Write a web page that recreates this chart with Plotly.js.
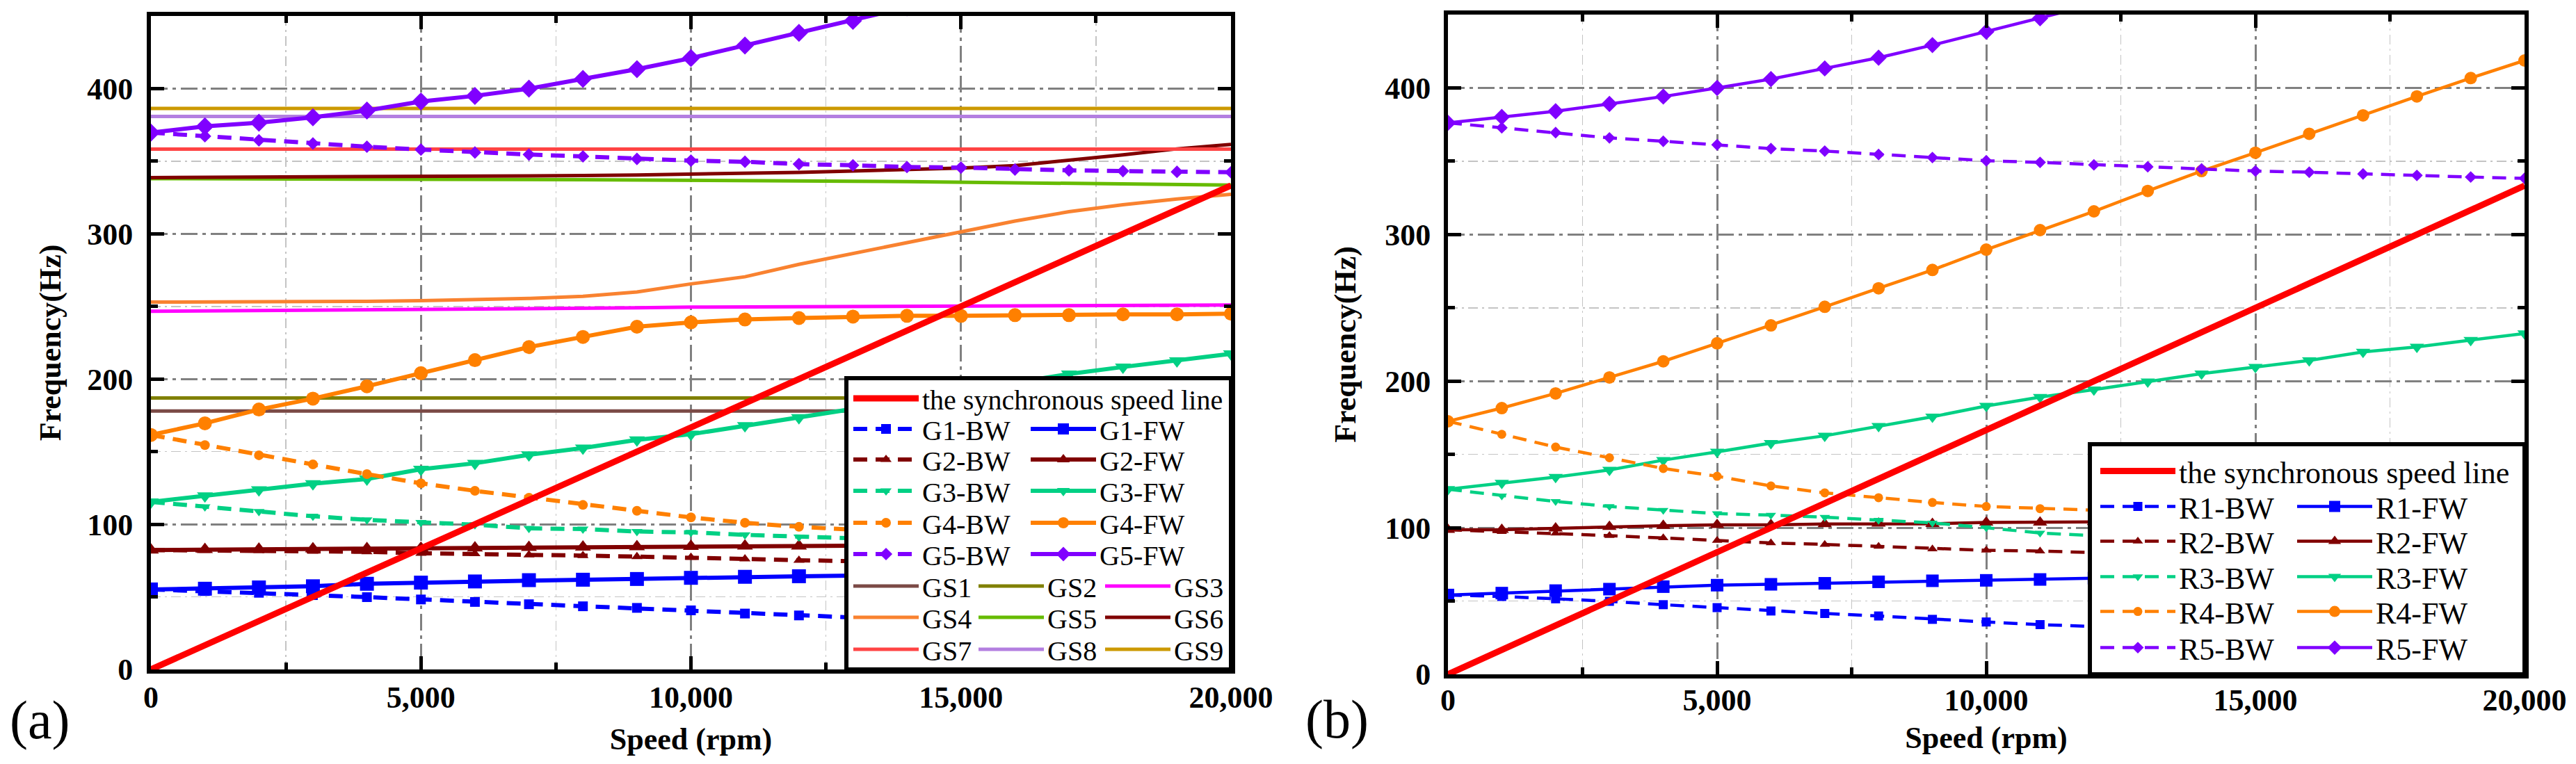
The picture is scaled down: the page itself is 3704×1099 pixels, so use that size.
<!DOCTYPE html>
<html>
<head>
<meta charset="utf-8">
<script src="https://cdn.plot.ly/plotly-3.0.1.min.js"></script>
<style>
  body { margin: 0; background: #fff; }
  #wrap { display: flex; width: 3704px; height: 1099px; }
  #pa, #pb { width: 1852px; height: 1099px; }
</style>
</head>
<body>
<div id="wrap"><div id="pa"></div><div id="pb"></div></div>
<script>
// Campbell diagrams: (a) G modes + GS curves, (b) R modes

const speed = [0, 1000, 2000, 3000, 4000, 5000, 6000, 7000, 8000, 9000, 10000,
  11000, 12000, 13000, 14000, 15000, 16000, 17000, 18000, 19000, 20000];
const syncSpeed = [0, 20000];
const syncFreq = [0, 333.3];
const flatSpeed = [0, 20000];

// ---- panel (a) ----
const g1bw = [55.1, 54, 52.8, 51.2, 49.8, 48.2, 46.5, 44.9, 43.5, 42.4, 40.7, 38.5, 37.2, 35.8, 34.5, 33.2, 32, 30.8, 29.7, 28.6, 27.6];
const g1fw = [55.1, 55.6, 56.5, 57.3, 59, 59.8, 60.6, 61.5, 61.8, 62.3, 63.1, 63.8, 64.2, 64.6, 65, 65.3, 65.6, 65.9, 66.2, 66.4, 66.6];
const g2bw = [82.2, 82, 81.7, 81.4, 81, 80, 79.7, 78.9, 78.4, 77.7, 77.2, 76.1, 75.2, 74.5, 73.8, 73.2, 72.6, 72, 71.5, 71, 70.5];
const g2fw = [82.2, 82.6, 82.8, 83, 83.2, 83.4, 83.7, 84, 84.2, 84.5, 84.7, 85, 85, 85.2, 85.3, 85.4, 85.5, 85.6, 85.7, 85.8, 85.9];
const g3bw = [115.4, 112, 108.8, 105.5, 103, 101.3, 99.7, 97.2, 96.7, 95, 94.4, 92.7, 91.2, 90.3, 89.5, 88.8, 88.2, 87.6, 87, 86.5, 86];
const g3fw = [115.4, 119.6, 123.8, 127.9, 131.2, 137.9, 142, 147.8, 152.5, 158.1, 162, 167.9, 173.4, 179, 185, 191, 197.5, 203.5, 208.3, 212.5, 217.4];
const g4bw = [161.5, 154.5, 147.5, 141.2, 134.5, 128.2, 123, 118.3, 113.3, 109.3, 104.7, 101, 98.2, 96, 94.3, 92.8, 91.6, 90.6, 89.8, 89.1, 88.5];
const g4fw = [161.5, 169.5, 179, 186.5, 195, 204, 213, 222, 229, 236, 239, 241, 242, 243, 243.5, 243.5, 244, 244, 244.5, 244.5, 245];
const g5bw = [369.7, 367.2, 364.4, 362.2, 360, 358, 356, 354.6, 353.3, 351.6, 350.4, 349.6, 348, 347.2, 346, 345.6, 344.3, 343.7, 343.2, 342.7, 342.4];
const g5fw = [369.7, 374, 376.5, 380.2, 384.9, 391.1, 395, 400, 406.7, 413.4, 421, 429.6, 438.4, 446.7, 456, 465, 475, 485, 496, 507, 518];

const gs1 = [178, 178];
const gs2 = [187, 187];
const gs3 = [246.7, 246.9, 247.1, 247.4, 247.6, 247.8, 248, 248.3, 248.6, 249, 249.5, 249.7, 249.9, 250.1, 250.2, 250.4, 250.5, 250.6, 250.7, 250.8, 251];
const gs4 = [253, 253, 253, 253, 253.5, 254, 254.5, 255.5, 257, 260, 265.5, 270.4, 279, 286.4, 293.6, 301.6, 308.8, 315.2, 320, 324, 327.2];
const gs5 = [338, 338, 337.9, 337.8, 337.7, 337.6, 337.5, 337.4, 337.3, 337.2, 337.1, 336.8, 336.5, 336.2, 335.9, 335.5, 335.1, 334.7, 334.3, 333.9, 333.6];
const gs6 = [338.7, 338.8, 338.9, 339, 339.2, 339.4, 339.6, 339.8, 340.1, 340.5, 341, 341.5, 342.3, 343.2, 344.2, 345.3, 347, 350.4, 354.4, 358.5, 361.6];
const gs7 = [358.3, 358.3];
const gs8 = [380.8, 380.8];
const gs9 = [386.3, 386.3];

// ---- panel (b) ----
const r1bw = [54.1, 53.1, 51.5, 49.8, 47.5, 45.5, 43.2, 41.5, 39.8, 37.5, 35.7, 33.9, 32.6, 31.3, 30, 28.8, 27.6, 26.5, 25.4, 24.4, 23.4];
const r1fw = [54.1, 55.4, 57.1, 58.1, 59.8, 60.8, 61.4, 62.1, 63.1, 63.8, 64.1, 64.7, 65.6, 66, 66.4, 66.8, 67.1, 67.4, 67.7, 68, 68.2];
const r2bw = [98.6, 97.3, 96.3, 94.6, 93, 91.3, 89.6, 88.6, 87.3, 85.5, 84.6, 84.1, 82.8, 82, 81.2, 80.4, 79.7, 79, 78.4, 77.8, 77.2];
const r2fw = [98.6, 98.6, 99.6, 100.6, 101.3, 101.9, 101.9, 102.6, 102.9, 102.7, 103.6, 103.6, 104, 104.2, 104.4, 104.6, 104.8, 105, 105.1, 105.2, 105.3];
const r3bw = [126.2, 121.8, 117.9, 114.5, 111.9, 109.6, 108.6, 107.2, 105.2, 103.3, 100, 96.4, 94.6, 93, 91.6, 90.3, 89.2, 88.2, 87.3, 86.5, 85.8];
const r3fw = [126.2, 130.5, 134.5, 139.4, 146.1, 151.7, 157.7, 162.7, 169.3, 175.7, 183, 189.1, 194.2, 199.6, 205.1, 209.6, 214.1, 219.9, 223.3, 228, 232.5];
const r4bw = [172.6, 163.7, 155, 147.7, 140.4, 135.1, 128.5, 123.8, 120.5, 117.2, 114.5, 113, 112, 111, 110.2, 109.5, 108.8, 108.2, 107.6, 107.1, 106.6];
const r4fw = [172.6, 181.6, 191.6, 202.5, 213.5, 225.8, 238, 250.7, 263.3, 275.8, 289.7, 303, 315.8, 329.7, 343.3, 355.8, 368.7, 381.3, 394.2, 406.7, 418.7];
const r5bw = [376.2, 372.8, 369.5, 365.9, 363.6, 361.2, 358.6, 356.9, 354.6, 352.5, 350.3, 349.2, 347.5, 346.2, 344.7, 343.3, 342.5, 341.3, 340.3, 339.2, 338.3];
const r5fw = [376.2, 380.2, 384.1, 389.1, 394.1, 400, 406, 413.3, 420.6, 429.2, 438.3, 447.5, 457, 467, 477, 488, 499, 510, 521, 532, 544];

const FONT = 'Liberation Serif, Times New Roman, serif';
const modeColors = ['#0000FF', '#800000', '#00D084', '#FF8000', '#8000FF'];
const modeSymbols = ['square', 'triangle-up', 'triangle-down', 'circle', 'diamond'];
const gsColors = ['#7B4A46', '#808000', '#FF00FF', '#F98230', '#66BB00', '#800000', '#FF4444', '#B37FE0', '#CC9900'];

function modeTrace(y, name, i, bw, st) {
  return {
    type: 'scatter', mode: 'lines+markers', x: speed, y: y, name: name,
    line: { color: modeColors[i], width: st.lw, dash: bw ? '20px,12px' : 'solid' },
    marker: { color: modeColors[i], symbol: modeSymbols[i], size: bw ? st.msBW : st.msFW },
  };
}

function syncTrace() {
  return { type: 'scatter', mode: 'lines', x: syncSpeed, y: syncFreq,
    name: 'the synchronous speed line', line: { color: '#FF0000', width: 9 } };
}

function axis(isX, titleText, standoff, labelOff) {
  return {
    range: isX ? [0, 20000] : [0, 450], tick0: 0, dtick: isX ? 5000 : 100,
    tickformat: isX ? ',d' : 'd',
    showline: true, linewidth: 6, linecolor: '#000', mirror: 'ticks',
    ticks: 'inside', ticklen: 19, tickwidth: 5, tickcolor: '#000',
    tickfont: { family: FONT, size: 44, color: '#000', weight: 'bold' },
    ticklabelstandoff: labelOff,
    showgrid: true, gridcolor: '#808080', gridwidth: 3, griddash: '24px,7px,5px,7px',
    minor: { dtick: isX ? 2500 : 50, ticks: 'inside', ticklen: 10, tickwidth: 5, tickcolor: '#000',
      showgrid: true, gridcolor: '#C4C4C4', gridwidth: 1.5, griddash: '14px,6px,3px,6px' },
    zeroline: false, automargin: true, fixedrange: true,
    title: { text: titleText, standoff: standoff, font: { family: FONT, size: 44, color: '#000', weight: 'bold' } },
  };
}

// every legend entry gets its own single-item legend, placed in page pixels
function build(div, g, letter, traces, slots, box, legendFont, itemW) {
  const layout = {
    width: 1852, height: 1099, paper_bgcolor: '#fff', plot_bgcolor: '#fff',
    margin: { l: g.l - g.div, r: g.div + 1852 - g.l - g.w, t: g.b - g.h, b: 1099 - g.b },
    xaxis: axis(true, 'Speed (rpm)', g.xstand, g.xoff),
    yaxis: axis(false, 'Frequency(Hz)', g.ystand, g.yoff),
    showlegend: true,
    shapes: [{ type: 'rect', xref: 'paper', yref: 'paper', layer: 'above',
      x0: (box[0] - g.l) / g.w, x1: 1, y0: 0, y1: (g.b - box[1]) / g.h,
      fillcolor: '#fff', line: { color: '#000', width: 6 } }],
    annotations: [{ text: letter, xref: 'paper', yref: 'paper', showarrow: false,
      x: (g.lx - g.l) / g.w, y: (g.b - g.ly) / g.h, xanchor: 'center', yanchor: 'middle',
      font: { family: FONT, size: 78, color: '#000' } }],
  };
  traces.forEach((t, i) => {
    const key = i === 0 ? 'legend' : 'legend' + (i + 1);
    t.legend = key;
    const p = slots[t.name];
    layout[key] = {
      x: (p[0] - g.l) / g.w, y: (g.b - p[1]) / g.h, xanchor: 'left', yanchor: 'middle',
      bgcolor: 'rgba(0,0,0,0)', borderwidth: 0, itemwidth: itemW,
      font: { family: FONT, size: legendFont, color: '#000' },
    };
  });
  Plotly.newPlot(div, traces, layout, { displayModeBar: false, staticPlot: true });
}

// ---- (a): GS curves underneath, modes, synchronous line on top ----
const gsData = [[flatSpeed, gs1], [flatSpeed, gs2], [speed, gs3], [speed, gs4], [speed, gs5],
  [speed, gs6], [flatSpeed, gs7], [flatSpeed, gs8], [flatSpeed, gs9]];
const styleA = { lw: 6, msBW: 14, msFW: 20 };
const tracesA = gsData.map((d, i) => ({
  type: 'scatter', mode: 'lines', x: d[0], y: d[1], name: 'GS' + (i + 1),
  line: { color: gsColors[i], width: 5 },
}));
[[g1bw, g1fw], [g2bw, g2fw], [g3bw, g3fw], [g4bw, g4fw], [g5bw, g5fw]].forEach((p, i) => {
  tracesA.push(modeTrace(p[0], 'G' + (i + 1) + '-BW', i, true, styleA));
  tracesA.push(modeTrace(p[1], 'G' + (i + 1) + '-FW', i, false, styleA));
});
tracesA.push(syncTrace());

const slotsA = { 'the synchronous speed line': [1222, 573] };
[617, 661, 706, 752, 797].forEach((y, i) => {
  slotsA['G' + (i + 1) + '-BW'] = [1222, y];
  slotsA['G' + (i + 1) + '-FW'] = [1477, y];
});
[843, 888, 934].forEach((y, r) => {
  [1222, 1402, 1584].forEach((x, c) => { slotsA['GS' + (r * 3 + c + 1)] = [x, y]; });
});

const geoA = { div: 0, l: 217, w: 1553, b: 963, h: 940, xstand: 22, xoff: -4, ystand: 26, yoff: 11, lx: 57, ly: 1035 };
build('pa', geoA, '(a)', tracesA, slotsA, [1217, 544], 40, 94);

// ---- (b) ----
const styleB = { lw: 4.5, msBW: 13, msFW: 18 };
const tracesB = [];
[[r1bw, r1fw], [r2bw, r2fw], [r3bw, r3fw], [r4bw, r4fw], [r5bw, r5fw]].forEach((p, i) => {
  tracesB.push(modeTrace(p[0], 'R' + (i + 1) + '-BW', i, true, styleB));
  tracesB.push(modeTrace(p[1], 'R' + (i + 1) + '-FW', i, false, styleB));
});
tracesB.push(syncTrace());

const slotsB = { 'the synchronous speed line': [3015, 678] };
[729, 779, 830, 880, 932].forEach((y, i) => {
  slotsB['R' + (i + 1) + '-BW'] = [3015, y];
  slotsB['R' + (i + 1) + '-FW'] = [3298, y];
});

const geoB = { div: 1852, l: 2082, w: 1548, b: 970, h: 949, xstand: 16, xoff: -7, ystand: 30, yoff: 10, lx: 1922, ly: 1034 };
build('pb', geoB, '(b)', tracesB, slotsB, [3005, 639], 44, 108);
</script>
</body>
</html>
